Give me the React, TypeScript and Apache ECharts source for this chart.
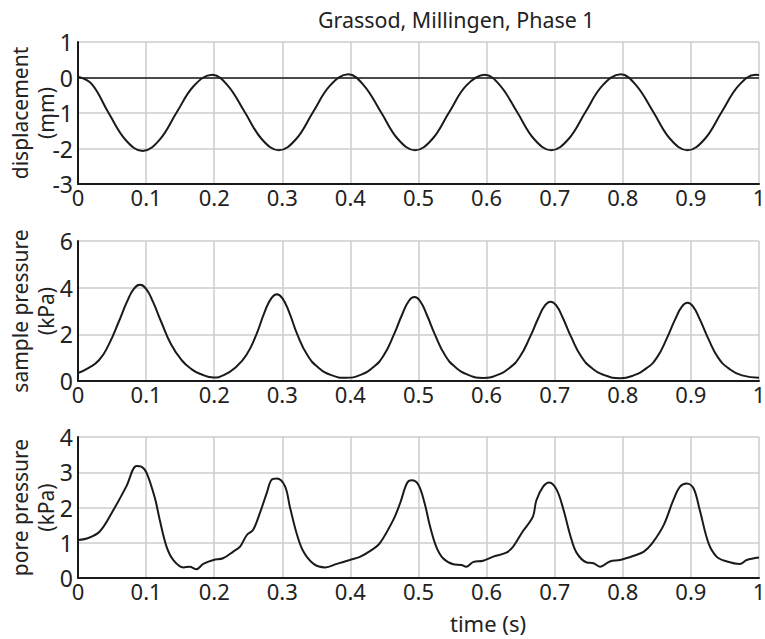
import React, { useEffect, useRef } from "react";
import * as echarts from "echarts";

const titleText = "Grassod, Millingen, Phase 1";
const xAxisTitle = "time (s)";
const yNames = ["displacement\n(mm)", "sample pressure\n(kPa)", "pore pressure\n(kPa)"];

// Panel 1: displacement (mm)
const dispT = [0, 0.02, 0.045, 0.07, 0.095, 0.12, 0.145, 0.17, 0.197, 0.22, 0.245, 0.27, 0.295, 0.32, 0.345, 0.37, 0.397, 0.42, 0.445, 0.47, 0.495, 0.52, 0.545, 0.57, 0.597, 0.62, 0.645, 0.67, 0.695, 0.72, 0.745, 0.77, 0.797, 0.82, 0.845, 0.87, 0.895, 0.92, 0.945, 0.97, 0.995, 1.0];
const dispV = [0.02, -0.18, -1.0, -1.76, -2.07, -1.75, -0.98, -0.24, 0.08, -0.23, -0.98, -1.74, -2.05, -1.74, -0.98, -0.23, 0.09, -0.23, -0.98, -1.74, -2.05, -1.74, -0.98, -0.23, 0.08, -0.23, -0.98, -1.74, -2.05, -1.74, -0.98, -0.23, 0.09, -0.23, -0.98, -1.74, -2.05, -1.74, -0.98, -0.23, 0.08, 0.07];

// Panel 2: sample pressure (kPa)
const sampT = [0, 0.015, 0.031, 0.045, 0.06, 0.072, 0.082, 0.091, 0.1, 0.11, 0.122, 0.137, 0.152, 0.167, 0.18, 0.199,
  0.214, 0.232, 0.247, 0.262, 0.274, 0.284, 0.292, 0.3, 0.31, 0.322, 0.337, 0.352, 0.372, 0.394,
  0.414, 0.434, 0.449, 0.464, 0.476, 0.486, 0.494, 0.502, 0.512, 0.524, 0.539, 0.554, 0.574, 0.595,
  0.614, 0.634, 0.649, 0.664, 0.676, 0.686, 0.694, 0.702, 0.712, 0.724, 0.739, 0.754, 0.774, 0.796,
  0.815, 0.835, 0.85, 0.865, 0.877, 0.887, 0.895, 0.903, 0.913, 0.925, 0.94, 0.955, 0.975, 1.0];
const sampV = [0.34, 0.55, 0.9, 1.55, 2.55, 3.4, 3.95, 4.12, 3.95, 3.4, 2.55, 1.55, 0.9, 0.5, 0.3, 0.15,
  0.25, 0.6, 1.1, 2.0, 2.95, 3.55, 3.72, 3.55, 2.95, 2.0, 1.1, 0.6, 0.25, 0.14,
  0.25, 0.6, 1.1, 2.0, 2.85, 3.44, 3.6, 3.44, 2.85, 2.0, 1.1, 0.6, 0.25, 0.13,
  0.24, 0.57, 1.05, 1.9, 2.7, 3.25, 3.4, 3.25, 2.7, 1.9, 1.05, 0.57, 0.24, 0.12,
  0.23, 0.55, 1.0, 1.85, 2.65, 3.2, 3.35, 3.2, 2.65, 1.85, 1.0, 0.55, 0.24, 0.14];

// Panel 3: pore pressure (kPa)
const poreT = [0, 0.013, 0.032, 0.052, 0.071, 0.086, 0.093, 0.101, 0.113, 0.12, 0.13, 0.14, 0.155, 0.164, 0.174, 0.184, 0.199, 0.213, 0.228, 0.238, 0.248, 0.257, 0.267, 0.277, 0.284, 0.292, 0.304, 0.311, 0.321, 0.331, 0.346, 0.363, 0.38, 0.399, 0.414, 0.431, 0.443, 0.463, 0.473, 0.483, 0.49, 0.5, 0.509, 0.517, 0.526, 0.536, 0.551, 0.563, 0.57, 0.58, 0.595, 0.609, 0.629, 0.639, 0.653, 0.668, 0.673, 0.683, 0.692, 0.703, 0.713, 0.723, 0.732, 0.747, 0.757, 0.767, 0.781, 0.796, 0.816, 0.831, 0.843, 0.86, 0.874, 0.884, 0.894, 0.904, 0.913, 0.926, 0.938, 0.953, 0.972, 0.982, 1.0];
const poreV = [1.08, 1.12, 1.32, 1.93, 2.6, 3.18, 3.16, 2.97, 2.26, 1.65, 0.89, 0.51, 0.3, 0.32, 0.25, 0.4, 0.51, 0.56, 0.75, 0.89, 1.22, 1.36, 1.84, 2.4, 2.78, 2.82, 2.6, 2.03, 1.27, 0.75, 0.4, 0.3, 0.4, 0.51, 0.6, 0.79, 0.98, 1.65, 2.12, 2.69, 2.77, 2.64, 2.12, 1.46, 0.89, 0.56, 0.39, 0.37, 0.32, 0.45, 0.49, 0.6, 0.72, 0.89, 1.32, 1.74, 2.2, 2.59, 2.71, 2.5, 1.93, 1.2, 0.72, 0.44, 0.42, 0.32, 0.47, 0.51, 0.63, 0.75, 0.98, 1.5, 2.2, 2.59, 2.68, 2.54, 1.93, 0.98, 0.6, 0.47, 0.4, 0.51, 0.58];

const yRanges = [
  { min: -3, max: 1, interval: 1 },
  { min: 0, max: 6, interval: 2 },
  { min: 0, max: 4, interval: 1 },
];

const FONT = "Noto Sans";
const TEXT = "#222";
const GRIDC = "#cccccc";
const LINEC = "#1a1a1a";

const zip = (t: number[], v: number[]) => t.map((x, i) => [x, v[i]]);

export default function App() {
  const ref = useRef<HTMLDivElement>(null);
  useEffect(() => {
    const chart = echarts.init(ref.current!, null, { renderer: "svg" });
    const grids = [
      { left: 78, right: 6, top: 42, height: 142, containLabel: false, outerBoundsMode: "none" },
      { left: 78, right: 6, top: 241, height: 140, containLabel: false, outerBoundsMode: "none" },
      { left: 78, right: 6, top: 437, height: 141, containLabel: false, outerBoundsMode: "none" },
    ];
    const option: any = {
      animation: false,
      backgroundColor: "#ffffff",
      textStyle: { fontFamily: FONT },
      title: {
        text: titleText,
        left: 318,
        top: 9,
        padding: 0,
        textStyle: { fontFamily: FONT, fontSize: 21.4, fontWeight: "normal", color: TEXT },
      },
      graphic: [
        {
          type: "text",
          left: 450,
          top: 612,
          style: { text: xAxisTitle, fontFamily: FONT, fontSize: 22, fill: TEXT },
        },
      ],
      grid: grids,
      xAxis: grids.map((_, i) => ({
        gridIndex: i,
        type: "value",
        min: 0,
        max: 1,
        interval: 0.1,
        axisLine: { show: true, onZero: false, lineStyle: { color: LINEC, width: 2 } },
        axisTick: { show: false },
        splitLine: { show: true, lineStyle: { color: GRIDC, width: 1.5 } },
        axisLabel: {
          fontFamily: FONT,
          fontSize: 22,
          color: TEXT,
          margin: 2,
          formatter: (v: number) => String(Math.round(v * 10) / 10),
        },
      })),
      yAxis: grids.map((_, i) => ({
        gridIndex: i,
        type: "value",
        min: yRanges[i].min,
        max: yRanges[i].max,
        interval: yRanges[i].interval,
        name: yNames[i],
        nameLocation: "middle",
        nameGap: 19,
        nameMoveOverlap: false,
        nameTextStyle: { fontFamily: FONT, fontSize: 21, lineHeight: 26, color: TEXT },
        axisLine: { show: true, onZero: false, lineStyle: { color: LINEC, width: 2 } },
        axisTick: { show: false },
        splitLine: { show: true, lineStyle: { color: GRIDC, width: 1.5 } },
        axisLabel: { fontFamily: FONT, fontSize: 23, color: TEXT, margin: 5 },
      })),
      series: [
        {
          type: "line",
          xAxisIndex: 0,
          yAxisIndex: 0,
          data: zip(dispT, dispV),
          smooth: 0.4,
          showSymbol: false,
          lineStyle: { color: LINEC, width: 2 },
          markLine: {
            silent: true,
            symbol: "none",
            label: { show: false },
            lineStyle: { color: LINEC, width: 1.5, type: "solid" },
            data: [{ yAxis: 0 }],
          },
        },
        {
          type: "line",
          xAxisIndex: 1,
          yAxisIndex: 1,
          data: zip(sampT, sampV),
          smooth: 0.5,
          showSymbol: false,
          lineStyle: { color: LINEC, width: 2 },
        },
        {
          type: "line",
          xAxisIndex: 2,
          yAxisIndex: 2,
          data: zip(poreT, poreV),
          smooth: 0.35,
          showSymbol: false,
          lineStyle: { color: LINEC, width: 2 },
        },
      ],
    };
    chart.setOption(option);
    return () => chart.dispose();
  }, []);
  return (
    <div
      ref={ref}
      style={{ position: "absolute", left: 0, top: 0, width: 765, height: 639 }}
    />
  );
}
